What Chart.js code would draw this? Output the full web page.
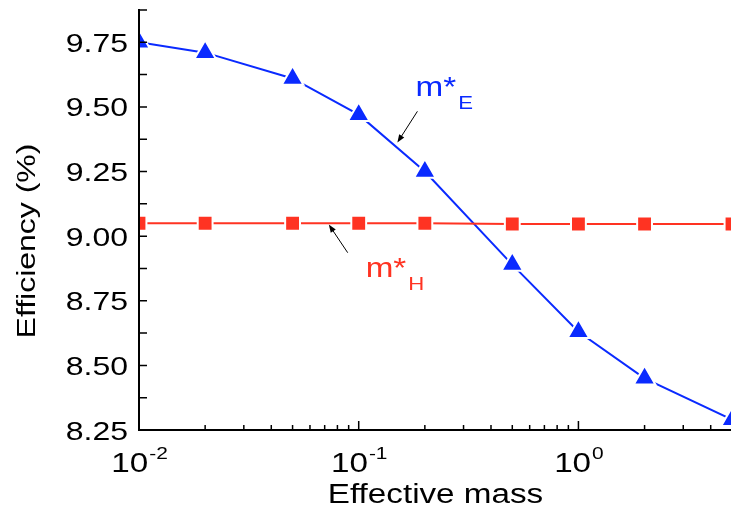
<!DOCTYPE html>
<html><head><meta charset="utf-8">
<script src="https://cdn.jsdelivr.net/npm/chart.js@4/dist/chart.umd.min.js"></script>
<style>html,body{margin:0;padding:0;background:#fff;overflow:hidden}canvas{display:block}</style>
</head><body>
<canvas id="c" width="733" height="509"></canvas>
<script>
// ---- data ----
const massValues   = [0.01, 0.02, 0.05, 0.1, 0.2, 0.5, 1, 2, 5];
const effElectron  = [9.75, 9.71, 9.61, 9.47, 9.25, 8.89, 8.63, 8.45, 8.29];
const effHole      = [9.05, 9.05, 9.05, 9.05, 9.05, 9.047, 9.047, 9.047, 9.047];
const yMajorTicks  = [8.25, 8.5, 8.75, 9.0, 9.25, 9.5, 9.75];
const yTickLabels  = ['8.25', '8.50', '8.75', '9.00', '9.25', '9.50', '9.75'];
const yMinorTicks  = [8.375, 8.625, 8.875, 9.125, 9.375, 9.625, 9.875];
const xMajorTicks  = [0.01, 0.1, 1];
const xTickBase    = '10';
const xTickExps    = ['-2', '-1', '0'];
const xMinorTicks  = [0.02, 0.03, 0.04, 0.05, 0.06, 0.07, 0.08, 0.09,
                      0.2, 0.3, 0.4, 0.5, 0.6, 0.7, 0.8, 0.9, 2, 3, 4, 5];
const xTitle = 'Effective mass';
const yTitle = 'Efficiency (%)';

// ---- styles ----
const BLUE = '#0a2aff';
const RED = '#ff3322';
const FONT = '"Liberation Sans", Arial, Helvetica, sans-serif';
const SX = 1.23; // glyphs in the reference are wide

// annotations (in data coordinates)
const annotations = [
  { text: 'm*', sub: 'E', color: BLUE, at: [0.1815, 9.541], from: [0.185, 9.483], to: [0.150, 9.362] },
  { text: 'm*', sub: 'H', color: RED,  at: [0.1076, 8.843], from: [0.0891, 8.936], to: [0.0731, 9.045] }
];

function drawStretched(ctx, text, x, y, size, align, color) {
  ctx.save();
  ctx.font = size + 'px ' + FONT;
  ctx.fillStyle = color;
  ctx.textBaseline = 'alphabetic';
  ctx.textAlign = 'left';
  const w = ctx.measureText(text).width * SX;
  const left = align === 'right' ? x - w : align === 'center' ? x - w / 2 : x;
  ctx.translate(left, y);
  ctx.scale(SX, 1);
  ctx.fillText(text, 0, 0);
  ctx.restore();
  return w;
}
function measure(ctx, text, size) {
  ctx.save(); ctx.font = size + 'px ' + FONT;
  const w = ctx.measureText(text).width * SX; ctx.restore(); return w;
}

const axesPlugin = {
  id: 'axesPlugin',
  afterDraw(chart) {
    const ctx = chart.ctx, xs = chart.scales.x, ys = chart.scales.y, a = chart.chartArea;
    ctx.save();
    // axis lines
    ctx.strokeStyle = '#000'; ctx.lineWidth = 2; ctx.lineCap = 'square';
    ctx.beginPath();
    ctx.moveTo(a.left, a.top); ctx.lineTo(a.left, a.bottom); ctx.lineTo(a.right + 2, a.bottom);
    ctx.stroke();
    // ticks
    ctx.lineWidth = 1.5; ctx.lineCap = 'butt';
    ctx.beginPath();
    yMajorTicks.concat(yMinorTicks).forEach(v => {
      const p = ys.getPixelForValue(v);
      ctx.moveTo(a.left, p); ctx.lineTo(a.left + 8, p);
    });
    xMajorTicks.forEach(v => {
      const p = xs.getPixelForValue(v);
      ctx.moveTo(p, a.bottom); ctx.lineTo(p, a.bottom - 9);
    });
    xMinorTicks.forEach(v => {
      const p = xs.getPixelForValue(v);
      ctx.moveTo(p, a.bottom); ctx.lineTo(p, a.bottom - 5);
    });
    ctx.stroke();
    // y tick labels
    yMajorTicks.forEach((v, i) => {
      const p = ys.getPixelForValue(v);
      drawStretched(ctx, yTickLabels[i], a.left - 11, p + 9.5, 26, 'right', '#000');
    });
    // x tick labels 10^n
    xMajorTicks.forEach((v, i) => {
      const p = xs.getPixelForValue(v);
      const wb = measure(ctx, xTickBase, 27), we = measure(ctx, xTickExps[i], 17);
      const left = p - (wb + we) / 2;
      drawStretched(ctx, xTickBase, left, a.bottom + 42, 27, 'left', '#000');
      drawStretched(ctx, xTickExps[i], left + wb + 1, a.bottom + 29, 17, 'left', '#000');
    });
    // axis titles
    drawStretched(ctx, xTitle, (a.left + a.right) / 2, a.bottom + 73, 27, 'center', '#000');
    ctx.save();
    ctx.translate(34.5, 241);
    ctx.rotate(-Math.PI / 2);
    drawStretched(ctx, yTitle, 0, 0, 26, 'center', '#000');
    ctx.restore();
    // annotations
    annotations.forEach(an => {
      const tx = xs.getPixelForValue(an.at[0]), ty = ys.getPixelForValue(an.at[1]);
      const w = drawStretched(ctx, an.text, tx, ty, 27, 'left', an.color);
      drawStretched(ctx, an.sub, tx + w + 2, ty + 13, 18, 'left', an.color);
      const x1 = xs.getPixelForValue(an.from[0]), y1 = ys.getPixelForValue(an.from[1]);
      const x2 = xs.getPixelForValue(an.to[0]), y2 = ys.getPixelForValue(an.to[1]);
      const ang = Math.atan2(y2 - y1, x2 - x1);
      ctx.strokeStyle = '#000'; ctx.fillStyle = '#000'; ctx.lineWidth = 1;
      ctx.beginPath(); ctx.moveTo(x1, y1);
      ctx.lineTo(x2 - 6 * Math.cos(ang), y2 - 6 * Math.sin(ang)); ctx.stroke();
      ctx.beginPath();
      ctx.moveTo(x2, y2);
      ctx.lineTo(x2 - 8 * Math.cos(ang) + 3 * Math.sin(ang), y2 - 8 * Math.sin(ang) - 3 * Math.cos(ang));
      ctx.lineTo(x2 - 8 * Math.cos(ang) - 3 * Math.sin(ang), y2 - 8 * Math.sin(ang) + 3 * Math.cos(ang));
      ctx.closePath(); ctx.fill();
    });
    ctx.restore();
  }
};

new Chart(document.getElementById('c'), {
  type: 'line',
  data: {
    datasets: [
      {
        label: 'm*H',
        data: massValues.map((x, i) => ({ x: x, y: effHole[i] })),
        borderColor: RED, backgroundColor: RED, borderWidth: 2,
        pointStyle: 'rect', pointRadius: 10.5, pointBackgroundColor: RED,
        pointBorderColor: '#fff', pointBorderWidth: 2, tension: 0, clip: 0
      },
      {
        label: 'm*E',
        data: massValues.map((x, i) => ({ x: x, y: effElectron[i] })),
        borderColor: BLUE, backgroundColor: BLUE, borderWidth: 2,
        pointStyle: 'triangle', pointRadius: 12.5, pointBackgroundColor: BLUE,
        pointBorderColor: '#fff', pointBorderWidth: 2, tension: 0, clip: 0
      }
    ]
  },
  options: {
    responsive: false,
    animation: false,
    events: [],
    layout: { autoPadding: false, padding: { top: 10, right: 1, left: 0, bottom: 0 } },
    plugins: { legend: { display: false }, tooltip: { enabled: false } },
    scales: {
      x: {
        type: 'logarithmic', min: 0.01, max: 5,
        grid: { display: false }, border: { display: false },
        ticks: { display: false },
        afterFit(s) { s.height = 79; }
      },
      y: {
        type: 'linear', min: 8.25, max: 9.875,
        grid: { display: false }, border: { display: false },
        ticks: { display: false },
        afterFit(s) { s.width = 139; }
      }
    }
  },
  plugins: [axesPlugin]
});
</script>
</body></html>
